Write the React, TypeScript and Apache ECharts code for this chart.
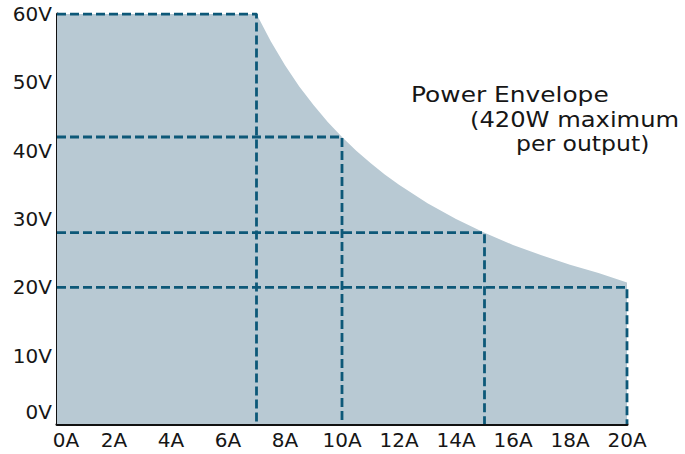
import React, { useEffect, useRef } from "react";
import * as echarts from "echarts";

// Current (A) and voltage (V) along the power envelope boundary
const envelopeCurrent = [0, 7, 7.5, 8, 8.5, 9, 9.5, 10, 10.5, 11, 11.5, 12, 13, 14, 15, 16, 17, 18, 19, 20];
const envelopeVoltage = [60, 60, 56, 52.5, 49.4, 46.7, 44.2, 42, 40, 38.2, 36.5, 35, 32.3, 30, 28, 26.2, 24.7, 23.3, 22.1, 20.7];

// Operating corners marked with dashed guide lines
const cornerCurrent = [7, 10, 15, 20];
const cornerVoltage = [60, 42, 28, 20];

const annotationLines = ["Power Envelope", "(420W maximum", "per output)"];

const FILL = "#b8c9d3";
const DASH = "#0d5878";

export default function App() {
  const ref = useRef<HTMLDivElement>(null);
  useEffect(() => {
    if (!ref.current) return;
    const chart = echarts.init(ref.current, null, { renderer: "svg" });
    const areaData = envelopeCurrent.map((c, i) => [c, envelopeVoltage[i]]);
    const dashedSeries = cornerCurrent.map((c, i) => ({
      type: "line",
      data: [
        [0, cornerVoltage[i]],
        [c, cornerVoltage[i]],
        [c, 0],
      ],
      symbol: "none",
      silent: true,
      z: 3,
      lineStyle: { color: DASH, width: 2.8, type: [9, 4] },
    }));
    const textStyle = (t: string) => ({
      text: t,
      font: "22px 'DejaVu Sans'",
      fill: "#161616",
      verticalAlign: "top",
    });
    chart.setOption({
      animation: false,
      backgroundColor: "#ffffff",
      grid: { left: 57, right: 58, top: 14, bottom: 30, containLabel: false },
      xAxis: {
        type: "value",
        min: 0,
        max: 20,
        interval: 2,
        axisLine: { show: true, onZero: false, lineStyle: { color: "#111", width: 3 } },
        axisTick: { show: true, inside: true, length: 4, lineStyle: { color: "#111", width: 2 } },
        splitLine: { show: false },
        axisLabel: {
          margin: 6,
          color: "#161616",
          fontFamily: "DejaVu Sans",
          fontSize: 20,
          formatter: (v: number) => (v === 0 ? "{z|0A}" : v + "A"),
          rich: { z: { padding: [0, 0, 0, 18], fontFamily: "DejaVu Sans", fontSize: 20, color: "#161616" } },
        },
      },
      yAxis: {
        type: "value",
        min: 0,
        max: 60,
        interval: 5,
        axisLine: { show: true, onZero: false, lineStyle: { color: "#111", width: 3 } },
        axisTick: { show: true, inside: true, length: 5, lineStyle: { color: "#111", width: 2 } },
        splitLine: { show: false },
        axisLabel: {
          margin: 5,
          color: "#161616",
          fontFamily: "DejaVu Sans",
          fontSize: 20,
          formatter: (v: number) => {
            if (v % 10 !== 0) return "";
            if (v === 0) return "{z|0V}";
            return v + "V";
          },
          rich: { z: { padding: [0, 0, 24, 0], fontFamily: "DejaVu Sans", fontSize: 20, color: "#161616" } },
        },
      },
      series: [
        {
          type: "line",
          data: areaData,
          symbol: "none",
          silent: true,
          z: 1,
          lineStyle: { width: 0, color: FILL },
          areaStyle: { color: FILL, opacity: 1 },
        },
        ...dashedSeries,
      ],
      graphic: [
        { type: "text", x: 411, y: 83, scaleX: 1.13, style: textStyle(annotationLines[0]) },
        { type: "text", x: 470, y: 108, scaleX: 1.1, style: textStyle(annotationLines[1]) },
        { type: "text", x: 516, y: 132, scaleX: 1.07, style: textStyle(annotationLines[2]) },
      ],
    });
    return () => chart.dispose();
  }, []);
  return (
    <div
      ref={ref}
      style={{ position: "absolute", left: 0, top: 0, width: 685, height: 454 }}
    />
  );
}
